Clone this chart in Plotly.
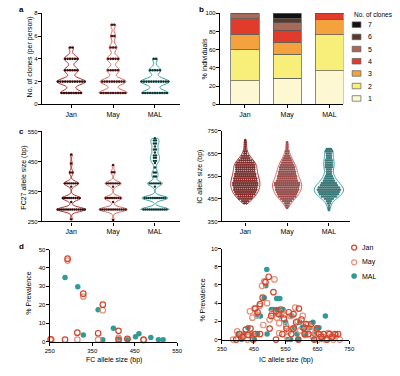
import numpy as np
import plotly.graph_objects as go

W, H = 400, 376
def fx(p): return p / W
def fy(p): return 1 - p / H

FONT = "Liberation Sans, Arial, sans-serif"
groups = ["Jan", "May", "MAL"]
line_col = {"Jan": "#b2302c", "May": "#dc6a63", "MAL": "#3aa7a7"}
dot_col = {"Jan": "#3a0c0c", "May": "#4a1414", "MAL": "#0e3838"}

# ---------- panel a / b data: number of people with k clones ----------
clones = [1, 2, 3, 4, 5, 6, 7]
people = {
    "Jan": [9, 12, 6, 6, 2, 0, 0],
    "May": [11, 10, 5, 5, 3, 2, 2],
    "MAL": [11, 12, 5, 2, 0, 0, 0],
}
clone_colors = ["#fdf8d2", "#f8ef7a", "#f3a23e", "#e03b2b", "#a86a58", "#5a3a2b", "#111111"]

# ---------- panel c left: FC27 allele sizes (value, count) ----------
fc_vals = {
    "Jan": [257, 290, 315, 328, 366, 377, 413, 443, 473],
    "May": [255, 290, 315, 328, 366, 377, 414, 438],
    "MAL": [290, 328, 366, 377, 400, 413, 430, 445, 452, 462, 470, 480, 490, 500, 510, 520, 527],
}
fc_cnts = {
    "Jan": [1, 14, 1, 9, 1, 7, 2, 1, 1],
    "May": [1, 13, 1, 8, 1, 7, 2, 1],
    "MAL": [12, 11, 1, 6, 2, 2, 1, 1, 2, 2, 2, 1, 2, 1, 2, 2, 1],
}

# ---------- panel c right: IC allele sizes (value, count) ----------
ic_vals = {
    "Jan": [430, 440, 450, 460, 470, 480, 490, 500, 510, 520, 530, 540, 550, 560, 570, 580, 590,
            600, 610, 620, 630, 640, 650, 660, 670, 680, 690, 700, 710],
    "May": [410, 420, 430, 440, 450, 460, 470, 480, 490, 500, 510, 520, 530, 540, 550, 560, 570,
            580, 590, 600, 610, 620, 630, 640, 650, 660, 670, 680, 690, 700],
    "MAL": [400, 410, 420, 430, 440, 450, 460, 470, 480, 490, 500, 510, 520, 530, 540, 550, 560,
            570, 580, 590, 600, 610, 620, 630, 640, 650, 660, 670],
}
ic_cnts = {
    "Jan": [2, 4, 7, 8, 10, 11, 12, 12, 13, 13, 12, 12, 11, 11, 10, 10, 10,
            10, 9, 7, 5, 4, 2, 2, 1, 1, 1, 1, 1],
    "May": [1, 2, 3, 5, 7, 9, 10, 11, 12, 12, 13, 13, 11, 10, 10, 9, 9,
            8, 8, 7, 6, 5, 4, 3, 2, 2, 1, 1, 1, 1],
    "MAL": [1, 1, 1, 2, 3, 5, 8, 10, 11, 12, 11, 9, 8, 6, 5, 4, 3,
            3, 3, 4, 4, 4, 4, 3, 3, 3, 4, 3],
}

# ---------- panel d left: FC prevalence ----------
fcp_x = {
    "Jan": [252, 286, 292, 315, 329, 364, 375, 412, 412, 433, 471],
    "May": [254, 292, 315, 329, 364, 375, 412, 433, 471],
    "MAL": [286, 316, 329, 364, 375, 400, 413, 433, 452, 460, 488, 506, 517],
}
fcp_y = {
    "Jan": [1.2, 1.0, 45, 4.8, 26, 4.5, 20, 5.8, 1.0, 1.5, 1.0],
    "May": [1.0, 44, 1.0, 24.4, 1.0, 17, 2.0, 1.2, 0.8],
    "MAL": [34.8, 29.8, 3.5, 17.2, 1.0, 7.2, 1.0, 1.0, 2.6, 4.2, 2.2, 1.0, 1.0],
}

# ---------- panel d right: IC prevalence ----------
icp_x = {
    "Jan": [395, 405, 415, 425, 432, 440, 448, 455, 462, 470, 478, 487, 497, 505, 512, 520, 528, 535,
            545, 553, 560, 568, 575, 583, 592, 600, 608, 615, 622, 630, 640, 648, 655, 662, 670, 680,
            688, 697, 705, 715, 470, 500, 540, 590, 610, 455, 520, 575],
    "May": [385, 398, 410, 420, 430, 438, 446, 452, 460, 468, 476, 483, 492, 500, 508, 515, 523, 530,
            538, 546, 552, 560, 566, 572, 580, 588, 596, 604, 612, 620, 628, 636, 645, 652, 660, 668,
            676, 684, 692, 700, 708, 720, 445, 480, 530, 555, 610],
    "MAL": [400, 412, 422, 432, 442, 452, 460, 471, 491, 488, 483, 492, 505, 512, 520, 528, 522, 527,
            532, 536, 542, 550, 556, 566, 570, 578, 586, 595, 602, 610, 618, 626, 636, 640, 648, 655,
            662, 675, 462, 590, 640],
}
icp_y = {
    "Jan": [0.0, 0.6, 0.3, 1.1, 0.5, 1.2, 0.0, 3.4, 3.0, 3.9, 4.6, 6.3, 6.9, 2.6, 5.2, 3.1, 2.8, 3.3,
            2.3, 1.2, 3.0, 0.6, 2.8, 1.9, 3.4, 2.2, 1.3, 1.7, 0.6, 1.7, 0.0, 1.2, 0.6, 0.3, 0.6, 0.0,
            0.6, 0.3, 0.6, 0.6, 0.6, 1.2, 0.6, 0.0, 0.6, 0.6, 0.0, 1.2],
    "May": [0.0, 0.9, 0.3, 0.6, 0.0, 3.1, 2.4, 3.4, 2.7, 3.7, 5.9, 6.4, 4.0, 2.2, 2.9, 6.6, 2.4, 1.8,
            3.0, 2.7, 1.5, 0.9, 2.6, 1.2, 3.5, 2.0, 1.0, 2.6, 0.5, 1.6, 1.0, 0.3, 0.7, 0.0, 0.5, 0.3,
            0.0, 0.7, 0.3, 0.0, 0.5, 0.0, 0.5, 1.6, 0.7, 0.3, 1.0],
    "MAL": [0.6, 0.0, 0.6, 1.3, 0.6, 0.0, 2.6, 2.6, 7.7, 5.9, 4.6, 0.6, 3.3, 3.3, 3.3, 3.3, 4.5, 4.5,
            4.5, 2.6, 3.3, 1.9, 0.0, 0.0, 2.6, 1.3, 0.6, 1.9, 1.3, 0.6, 1.3, 1.3, 1.9, 0.6, 1.3, 1.3,
            0.0, 2.6, 0.6, 0.0, 0.0],
}
pd_col = {"Jan": "#d0462f", "May": "#e8907c", "MAL": "#2f9b97"}


def swarm(vals, cnts, center, spacing):
    xs, ys = [], []
    for v, c in zip(vals, cnts):
        for i in range(c):
            xs.append(center + (i - (c - 1) / 2) * spacing)
            ys.append(v)
    return xs, ys


fig = go.Figure()

# panel a
for gi, g in enumerate(groups):
    vals = np.repeat(clones, people[g])
    fig.add_trace(go.Violin(x=[gi] * len(vals), y=vals, xaxis="x", yaxis="y", width=0.68,
                            scalemode="width", spanmode="hard", bandwidth=0.27,
                            line=dict(color=line_col[g], width=1), fillcolor="white",
                            points=False, showlegend=False, hoverinfo="skip"))
    xs, ys = swarm(clones, people[g], gi, 0.058)
    fig.add_trace(go.Scatter(x=xs, y=ys, xaxis="x", yaxis="y", mode="markers",
                             marker=dict(size=2.6, color=dot_col[g]), showlegend=False))

# panel b
for k, col in zip(clones, clone_colors):
    ys = []
    for g in groups:
        ys.append(100 * people[g][k - 1] / sum(people[g]))
    fig.add_trace(go.Bar(x=[0, 1, 2], y=ys, xaxis="x2", yaxis="y2", width=0.67, name=str(k),
                         marker=dict(color=col, line=dict(color="#5a5a5a", width=0.7)),
                         showlegend=False))

# panel c left
for gi, g in enumerate(groups):
    vals = np.repeat(fc_vals[g], fc_cnts[g])
    fig.add_trace(go.Violin(x=[gi] * len(vals), y=vals, xaxis="x3", yaxis="y3", width=0.68,
                            scalemode="width", spanmode="hard", bandwidth=7,
                            line=dict(color=line_col[g], width=1), fillcolor="white",
                            points=False, showlegend=False, hoverinfo="skip"))
    xs, ys = swarm(fc_vals[g], fc_cnts[g], gi, 0.05)
    fig.add_trace(go.Scatter(x=xs, y=ys, xaxis="x3", yaxis="y3", mode="markers",
                             marker=dict(size=2.4, color=dot_col[g]), showlegend=False))

# panel c right
for gi, g in enumerate(groups):
    vals = np.repeat(ic_vals[g], ic_cnts[g])
    fig.add_trace(go.Violin(x=[gi] * len(vals), y=vals, xaxis="x4", yaxis="y4", width=0.7,
                            scalemode="width", spanmode="hard", bandwidth=14,
                            line=dict(color=line_col[g], width=1), fillcolor="white",
                            points=False, showlegend=False, hoverinfo="skip"))
    xs, ys = swarm(ic_vals[g], ic_cnts[g], gi, 0.048)
    fig.add_trace(go.Scatter(x=xs, y=ys, xaxis="x4", yaxis="y4", mode="markers",
                             marker=dict(size=1.9, color=line_col[g],
                                         line=dict(color=dot_col[g], width=0.5)),
                             showlegend=False))

# panel d
for g in ["MAL", "May", "Jan"]:
    for xa, ya, X, Y in [("x5", "y5", fcp_x, fcp_y), ("x6", "y6", icp_x, icp_y)]:
        if g == "MAL":
            mk = dict(size=5.5, color=pd_col[g], symbol="circle")
        else:
            mk = dict(size=5.5, color=pd_col[g], symbol="circle-open", line=dict(width=1.2))
        fig.add_trace(go.Scatter(x=X[g], y=Y[g], xaxis=xa, yaxis=ya, mode="markers",
                                 marker=mk, cliponaxis=False, showlegend=False, name=g))

ax = dict(showline=True, linecolor="black", linewidth=1.2, ticks="outside", ticklen=3,
          tickwidth=1, tickcolor="black", showgrid=False, zeroline=False,
          tickfont=dict(size=6, color="black", family=FONT), fixedrange=True)
yax = dict(ax, ticklabelstandoff=-1)

cat = dict(tickmode="array", tickvals=[0, 1, 2], ticktext=groups,
           tickfont=dict(size=7, color="black", family=FONT))

fig.update_layout(
    width=W, height=H, margin=dict(l=0, r=0, t=0, b=0),
    paper_bgcolor="white", plot_bgcolor="white", violinmode="overlay", barmode="stack",
    font=dict(family=FONT, size=7, color="black"),
    xaxis=dict(ax, domain=[fx(38), fx(180)], range=[-0.7, 2.6], anchor="y", **cat),
    yaxis=dict(yax, domain=[fy(103), fy(10.5)], range=[0, 8], dtick=2, anchor="x"),
    xaxis2=dict(ax, domain=[fx(221), fx(348)], range=[-0.59, 2.33], anchor="y2", **cat),
    yaxis2=dict(yax, domain=[fy(103), fy(10.5)], range=[0, 100], dtick=20, anchor="x2"),
    xaxis3=dict(ax, domain=[fx(38), fx(180)], range=[-0.7, 2.6], anchor="y3", **cat),
    yaxis3=dict(yax, domain=[fy(222), fy(130.5)], range=[250, 550], tick0=250, dtick=100,
                anchor="x3"),
    xaxis4=dict(ax, domain=[fx(223), fx(355)], range=[-0.56, 2.51], anchor="y4", **cat),
    yaxis4=dict(yax, domain=[fy(222), fy(130)], range=[350, 750], tick0=350, dtick=100,
                anchor="x4"),
    xaxis5=dict(ax, domain=[fx(46), fx(177)], range=[250, 550], tick0=250, dtick=100,
                anchor="y5"),
    yaxis5=dict(yax, domain=[fy(344), fy(250.5)], range=[0, 50], dtick=10, anchor="x5"),
    xaxis6=dict(ax, domain=[fx(223), fx(354)], range=[350, 750], tick0=350, dtick=100,
                anchor="y6"),
    yaxis6=dict(yax, domain=[fy(342), fy(249.5)], range=[0, 10], dtick=2, anchor="x6"),
)

ann = []
shapes = []
for lab, x, y in [("a", 17, 7), ("b", 202, 7), ("c", 17, 131), ("d", 17, 247)]:
    ann.append(dict(text="<b>%s</b>" % lab, x=fx(x), y=fy(y), xref="paper", yref="paper",
                    showarrow=False, font=dict(size=8, family=FONT, color="black"),
                    xanchor="center", yanchor="middle"))

# axis titles
for text, x, y in [("No. of clones (per person)", 26, 55), ("% individuals", 205, 57),
                   ("FC27 allele size (bp)", 20, 177), ("IC allele size (bp)", 201, 176),
                   ("% Prevalence", 24, 295), ("% Prevalence", 203, 302)]:
    ann.append(dict(text=text, x=fx(x), y=fy(y), xref="paper", yref="paper", showarrow=False,
                    textangle=-90, xanchor="center", yanchor="middle", font=dict(size=7)))
for text, x, y in [("FC allele size (bp)", 112, 363), ("IC allele size (bp)", 289, 363)]:
    ann.append(dict(text=text, x=fx(x), y=fy(y), xref="paper", yref="paper", showarrow=False,
                    xanchor="center", yanchor="middle", font=dict(size=7)))

# legend for b
ann.append(dict(text="No. of clones", x=fx(357), y=fy(11.5), xref="paper", yref="paper",
                showarrow=False, xanchor="left", yanchor="middle", font=dict(size=6.5)))
leg_y = {7: 22, 6: 34.5, 5: 46.8, 4: 59.2, 3: 71.6, 2: 84.4, 1: 97}
for k, col in zip(clones, clone_colors):
    yc = leg_y[k]
    shapes.append(dict(type="rect", xref="paper", yref="paper", x0=fx(357), x1=fx(366),
                       y0=fy(yc + 2.8), y1=fy(yc - 2.8), fillcolor=col,
                       line=dict(color="#5a5a5a", width=0.7)))
    ann.append(dict(text=str(k), x=fx(371), y=fy(yc), xref="paper", yref="paper",
                    showarrow=False, xanchor="left", yanchor="middle", font=dict(size=7)))

# legend for d
for g, yc in [("Jan", 248.5), ("May", 263.5), ("MAL", 277.5)]:
    if g == "MAL":
        shapes.append(dict(type="circle", xref="paper", yref="paper", xsizemode="pixel",
                           ysizemode="pixel", xanchor=fx(359), yanchor=fy(yc), x0=-2.8, x1=2.8,
                           y0=-2.8, y1=2.8, fillcolor=pd_col[g], line=dict(width=0)))
    else:
        shapes.append(dict(type="circle", xref="paper", yref="paper", xsizemode="pixel",
                           ysizemode="pixel", xanchor=fx(359), yanchor=fy(yc), x0=-2.5, x1=2.5,
                           y0=-2.5, y1=2.5, line=dict(color=pd_col[g], width=1.2)))
    ann.append(dict(text=g, x=fx(365), y=fy(yc), xref="paper", yref="paper", showarrow=False,
                    xanchor="left", yanchor="middle", font=dict(size=7)))

fig.update_layout(annotations=ann, shapes=shapes)
fig.write_html("out.html", config={"displayModeBar": False},
               post_script="document.body.style.margin='0';")
